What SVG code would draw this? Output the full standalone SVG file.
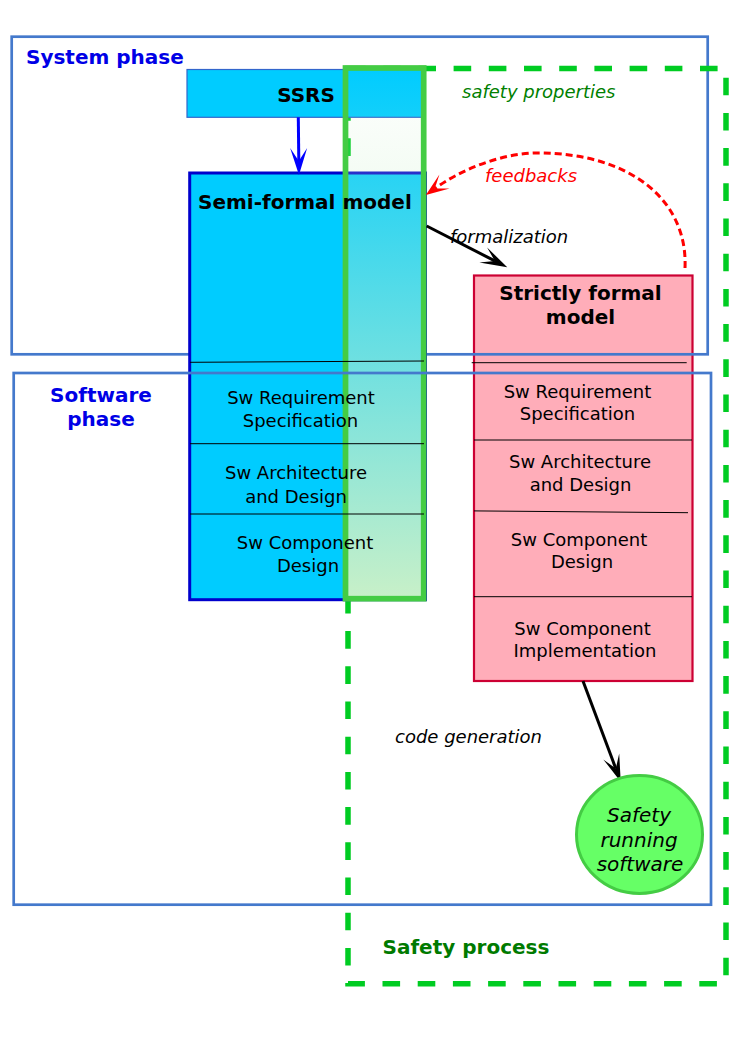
<svg xmlns="http://www.w3.org/2000/svg" width="745" height="1053" viewBox="0 0 745 1053">
<style>
text{font-family:"DejaVu Sans","Liberation Sans",sans-serif;}
.b{font-weight:bold;font-size:20px;}
.n{font-size:18px;fill:#000;}
.i{font-style:italic;font-size:18px;}
.phase{fill:none;stroke:#4479cc;stroke-width:2.7;}
.sep{stroke:#000;stroke-width:1;fill:none;}
.mid{text-anchor:middle;}
</style>
<defs>
<linearGradient id="ov" gradientUnits="userSpaceOnUse" x1="0" y1="68" x2="0" y2="599">
<stop offset="0" stop-color="#c8f0c8" stop-opacity="0"/>
<stop offset="1" stop-color="#c8f0c8" stop-opacity="1"/>
</linearGradient>
<marker id="aBlue" markerUnits="userSpaceOnUse" orient="auto" refX="0" refY="0" overflow="visible" markerWidth="30" markerHeight="20">
<path d="M14,0 L-13,-8.5 L0,0 L-13,8.5 Z" fill="#0000ff"/>
</marker>
<marker id="aBlack" markerUnits="userSpaceOnUse" orient="auto" refX="0" refY="0" overflow="visible" markerWidth="30" markerHeight="20">
<path d="M14,0 L-13,-8.5 L0,0 L-13,8.5 Z" fill="#000"/>
</marker>
<marker id="aRed" markerUnits="userSpaceOnUse" orient="auto" refX="0" refY="0" overflow="visible" markerWidth="30" markerHeight="20">
<path d="M11,0 L-12,-8.7 L0,0 L-12,8.7 Z" fill="#ff0000"/>
</marker>
</defs>
<rect width="745" height="1053" fill="#fff"/>

<g id="strictly-formal-model">
<rect x="474" y="275.5" width="218.5" height="405.5" fill="#ffadb9" stroke="#cc0033" stroke-width="2.2"/>
<text class="b mid" x="580.5" y="300">Strictly formal</text>
<text class="b mid" x="580.5" y="324.3">model</text>
<path class="sep" d="M471.7,362.7 L686.7,362.7 M474,440 L692,440 M474,510.9 L688,512.7 M474,596.7 L692,596.7"/>
<text class="n mid" x="577.5" y="398.3">Sw Requirement</text>
<text class="n mid" x="577.5" y="420">Specification</text>
<text class="n mid" x="580" y="468.3">Sw Architecture</text>
<text class="n mid" x="580.5" y="490.7">and Design</text>
<text class="n mid" x="579" y="546">Sw Component</text>
<text class="n mid" x="582" y="567.7">Design</text>
<text class="n mid" x="582.5" y="635">Sw Component</text>
<text class="n mid" x="585" y="656.7">Implementation</text>
</g>

<g id="system-phase">
<rect class="phase" x="11.7" y="36.7" width="696" height="317.6"/>
<text class="b" x="26" y="64" fill="#0000e6">System phase</text>
</g>

<g id="safety-process">
<rect x="348" y="68.5" width="378" height="915.3" fill="none" stroke="#00cc22" stroke-width="5.5" stroke-dasharray="17.6 17.6"/>
<text class="b" x="382.5" y="954" fill="#007a00">Safety process</text>
</g>

<g id="ssrs">
<rect x="187" y="69.5" width="237" height="47.8" fill="#00ccff" stroke="#3366cc" stroke-width="1.2"/>
<text class="b mid" x="306" y="101.7">SSRS</text>
</g>

<g id="semi-formal-model">
<rect x="189.7" y="173" width="235.8" height="426.7" fill="#00ccff" stroke="#0000cc" stroke-width="3"/>
</g>

<g id="safety-properties-overlay">
<rect x="345.5" y="68" width="78.2" height="530.7" fill="url(#ov)" stroke="#44cc44" stroke-width="5.7"/>
</g>

<g id="semi-formal-model-content">
<text class="b" x="198" y="209.3">Semi-formal model</text>
<path class="sep" d="M190,362.3 L424,361 M190,443.7 L424,443.7 M190,514 L424,514"/>
<text class="n mid" x="301" y="404">Sw Requirement</text>
<text class="n mid" x="300.5" y="426.7">Specification</text>
<text class="n mid" x="296" y="479">Sw Architecture</text>
<text class="n mid" x="296" y="502.7">and Design</text>
<text class="n mid" x="305" y="549">Sw Component</text>
<text class="n mid" x="308" y="571.7">Design</text>
</g>

<g id="software-phase">
<rect class="phase" x="13.7" y="373" width="697.3" height="531.7"/>
<text class="b mid" x="101" y="401.7" fill="#0000e6">Software</text>
<text class="b mid" x="101" y="426" fill="#0000e6">phase</text>
</g>

<g id="connectors">
<path d="M298.3,117.3 L298.8,161" fill="none" stroke="#0000ff" stroke-width="3" marker-end="url(#aBlue)"/>
<path d="M426.7,226 L494.8,260.9" fill="none" stroke="#000" stroke-width="3" marker-end="url(#aBlack)"/>
<path d="M583,681 L615.8,768.6" fill="none" stroke="#000" stroke-width="3" marker-end="url(#aBlack)"/>
<path d="M685,268 C688,200 630,153 538,153 C500,153 459,171 434.8,188.5" fill="none" stroke="#ff0000" stroke-width="3" stroke-dasharray="7 4" marker-end="url(#aRed)"/>
</g>

<g id="labels">
<text class="i" x="462" y="98" fill="#008000">safety properties</text>
<text class="i" x="485" y="181.7" fill="#ff0000">feedbacks</text>
<text class="i" x="450" y="242.5" fill="#000">formalization</text>
<text class="i" x="395" y="742.7" fill="#000">code generation</text>
</g>

<g id="safety-running-software">
<ellipse cx="639.5" cy="834.5" rx="63" ry="59" fill="#66ff66" stroke="#44cc44" stroke-width="3"/>
<text class="mid" x="639" y="821.7" font-size="20" font-style="italic">Safety</text>
<text class="mid" x="639" y="846.7" font-size="20" font-style="italic">running</text>
<text class="mid" x="640" y="871" font-size="20" font-style="italic">software</text>
</g>
</svg>
